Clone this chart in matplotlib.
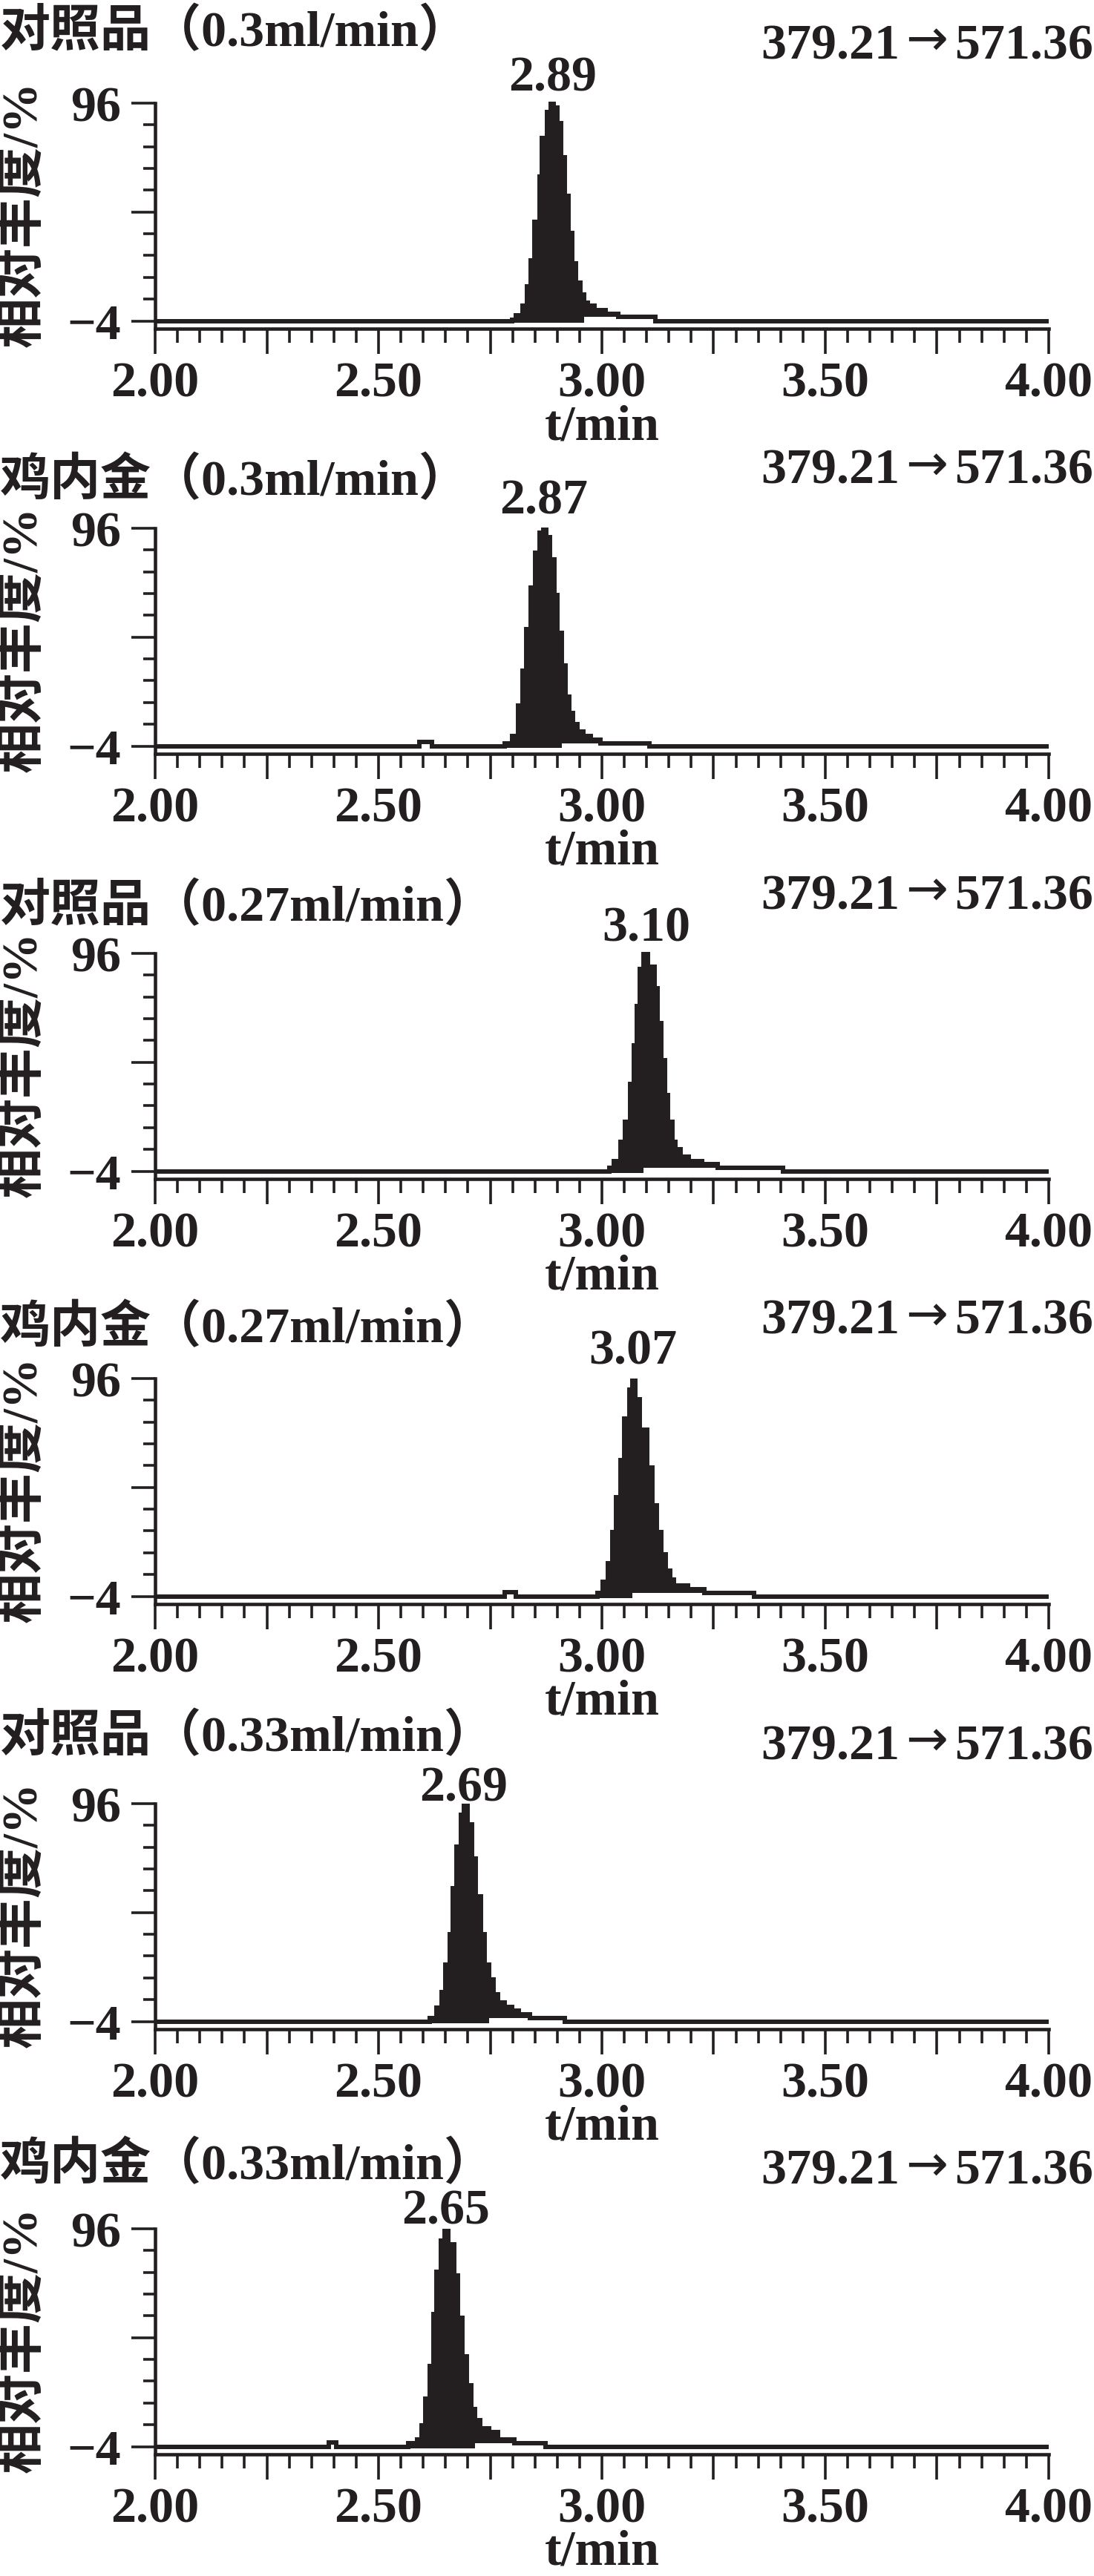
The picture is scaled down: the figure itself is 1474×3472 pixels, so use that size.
import matplotlib
matplotlib.use('Agg')
import matplotlib.pyplot as plt
from matplotlib.ticker import FixedLocator, MultipleLocator, FuncFormatter

plt.rcParams['font.family'] = ['Liberation Serif', 'Noto Sans CJK SC', 'DejaVu Sans']
plt.rcParams['font.weight'] = 'bold'

# ---------------- data ----------------
titles = ['对照品（0.3ml/min）', '鸡内金（0.3ml/min）',
          '对照品（0.27ml/min）', '鸡内金（0.27ml/min）',
          '对照品（0.33ml/min）', '鸡内金（0.33ml/min）']
transition_from = '379.21'
transition_arrow = '→'
transition_to = '571.36'
peak_labels = ['2.89', '2.87', '3.10', '3.07', '2.69', '2.65']
peak_times = [2.89, 2.87, 3.10, 3.07, 2.69, 2.65]
x_label = 't/min'
y_label = '相对丰度/%'
y_tick_labels = ['−4', '96']
x_tick_labels = ['2.00', '2.50', '3.00', '3.50', '4.00']

baseline_level = -4

p1_edges = [2.799, 2.807, 2.822, 2.832, 2.841, 2.849, 2.860, 2.866, 2.877, 2.885, 2.892, 2.900,
            2.908, 2.917, 2.925, 2.933, 2.942, 2.951, 2.960, 2.969, 2.984, 3.009, 3.037, 3.120]
p1_values = [-3.6, -1.5, 3.0, 12.0, 23.7, 41.4, 62.1, 79.9, 91.8, 95.6, 94.1, 86.8,
             71.1, 53.3, 36.4, 22.5, 13.5, 8.1, 4.5, 3.0, 1.0, -0.6, -2.1]

p2_edges = [2.783, 2.799, 2.812, 2.822, 2.831, 2.841, 2.851, 2.860, 2.868, 2.876, 2.884,
            2.893, 2.901, 2.910, 2.918, 2.927, 2.936, 2.946, 2.958, 2.975, 2.997, 3.106]
p2_values = [-2.9, 0.7, 14.7, 30.5, 49.7, 68.6, 84.9, 93.8, 95.2, 92.0, 81.6,
             65.2, 47.8, 33.0, 18.6, 11.1, 6.2, 2.5, 0.7, -1.1, -2.9]

p3_edges = [3.017, 3.027, 3.042, 3.052, 3.063, 3.071, 3.078, 3.085, 3.093, 3.103, 3.118,
            3.125, 3.133, 3.141, 3.148, 3.158, 3.165, 3.176, 3.194, 3.224, 3.259, 3.406]
p3_values = [-2.5, 0.7, 9.4, 18.5, 36.1, 53.8, 71.9, 89.0, 95.5, 89.8, 79.9,
             64.0, 46.9, 31.0, 18.5, 9.4, 6.0, 2.6, 0.7, -0.8, -2.5]

p4_edges = [2.990, 3.002, 3.014, 3.024, 3.032, 3.042, 3.050, 3.061, 3.068, 3.075, 3.085,
            3.101, 3.113, 3.123, 3.133, 3.143, 3.153, 3.161, 3.192, 3.229, 3.340]
p4_values = [-2.4, 2.7, 11.2, 25.6, 41.4, 58.4, 77.7, 91.0, 95.0, 86.5,
             72.4, 55.0, 37.8, 25.6, 15.2, 7.8, 3.8, 1.0, -0.7, -2.4]

p5_edges = [2.614, 2.630, 2.641, 2.649, 2.659, 2.666, 2.674, 2.684, 2.691, 2.699, 2.709,
            2.718, 2.730, 2.738, 2.748, 2.758, 2.768, 2.783, 2.799, 2.814, 2.839, 2.917]
p5_values = [-2.6, 2.4, 9.5, 22.0, 36.1, 57.1, 76.3, 91.0, 95.0, 86.5, 70.9,
             53.3, 36.1, 22.0, 15.2, 8.4, 4.6, 2.7, 1.0, -0.7, -2.4]

p6_edges = [2.567, 2.587, 2.597, 2.605, 2.615, 2.623, 2.629, 2.639, 2.648, 2.656, 2.670,
            2.677, 2.688, 2.698, 2.708, 2.716, 2.728, 2.748, 2.768, 2.804, 2.874]
p6_values = [-2.5, -0.6, 5.6, 18.1, 32.8, 56.9, 76.3, 90.6, 95.0, 88.8,
             74.4, 55.0, 37.5, 24.0, 13.1, 8.1, 4.4, 2.5, -0.6, -2.5]

# end of the integrated (filled to baseline) part of each peak
integration_end = [2.960, 2.910, 3.093, 3.068, 2.748, 2.716]

# small baseline blips (start, end, level); None when absent
blip_start = [None, 2.592, None, 2.783, None, 2.389]
blip_end = [None, 2.619, None, 2.808, None, 2.406]
blip_level = [None, -2.0, None, -2.0, None, -2.0]

all_edges = [p1_edges, p2_edges, p3_edges, p4_edges, p5_edges, p6_edges]
all_values = [p1_values, p2_values, p3_values, p4_values, p5_values, p6_values]

# ---------------- layout ----------------
W, H = 1474, 3473
DPI = 100
INK = '#231f20'
FS = 49

fig = plt.figure(figsize=(W / DPI, H / DPI), dpi=DPI)
fig.patch.set_facecolor('white')

ax_left_px, ax_right_px = 209, 1413
top0_px, step_px = 140, 573.0
ax_h_px = 303.5          # from 96 level down to x spine
ppu = 2.935              # pixels per unit
ybot = baseline_level - 10 / ppu

title_off = [-78, -46, -45, -50, -72, -68]
label_off = [18, 20, 17, 20, 5, 7]
xlabel_off = 452
right_off = -61

LW_TRACE = 4.3

for k in range(6):
    y96 = top0_px + step_px * k
    ax = fig.add_axes([ax_left_px / W, 1 - (y96 + ax_h_px) / H,
                       (ax_right_px - ax_left_px) / W, ax_h_px / H])
    ax.set_xlim(2.0, 4.0)
    ax.set_ylim(ybot, 96)
    for s in ['top', 'right']:
        ax.spines[s].set_visible(False)
    for s in ['left', 'bottom']:
        ax.spines[s].set_linewidth(3.3)
        ax.spines[s].set_color(INK)

    # ticks
    ax.xaxis.set_major_locator(MultipleLocator(0.25))
    ax.xaxis.set_minor_locator(MultipleLocator(0.05))
    ax.xaxis.set_major_formatter(FuncFormatter(
        lambda v, p: x_tick_labels[int(round((v - 2.0) / 0.5))]
        if abs((v - 2.0) / 0.5 - round((v - 2.0) / 0.5)) < 1e-6 else ''))
    ax.yaxis.set_major_locator(FixedLocator([-4, 46, 96]))
    ax.yaxis.set_minor_locator(FixedLocator([6, 16, 26, 36, 56, 66, 76, 86]))
    ax.yaxis.set_major_formatter(FuncFormatter(
        lambda v, p: y_tick_labels[0] if abs(v + 4) < 1e-6 else (y_tick_labels[1] if abs(v - 96) < 1e-6 else '')))
    ax.tick_params(axis='x', which='major', direction='out', length=24.5, width=2.6,
                   color=INK, labelsize=FS, labelcolor=INK, pad=7)
    ax.tick_params(axis='x', which='minor', direction='out', length=13.5, width=2.6, color=INK)
    ax.tick_params(axis='y', which='major', direction='out', length=23, width=2.6,
                   color=INK, labelsize=FS, labelcolor=INK, pad=10)
    ax.tick_params(axis='y', which='minor', direction='out', length=11.5, width=2.6, color=INK)

    edges = all_edges[k]
    vals = all_values[k]
    iend = edges.index(integration_end[k])

    # filled integrated part
    ax.stairs(vals[:iend], edges[:iend + 1], baseline=baseline_level - 1.0, fill=True,
              color=INK, linewidth=0, clip_on=False)
    # tail part filled down to its own floor
    ax.stairs(vals[iend:], edges[iend:], baseline=vals[-1], fill=True,
              color=INK, linewidth=0, clip_on=False)

    # full trace
    tr_edges = [2.0]
    tr_vals = []
    if blip_start[k] is not None:
        tr_vals += [baseline_level, blip_level[k]]
        tr_edges += [blip_start[k], blip_end[k]]
    tr_vals += [baseline_level] + vals + [baseline_level]
    tr_edges += edges + [4.0]
    ax.stairs(tr_vals, tr_edges, baseline=None, color=INK, linewidth=LW_TRACE,
              joinstyle='miter', capstyle='butt', clip_on=False)

    # peak label
    ax.annotate(peak_labels[k], xy=(peak_times[k], 96), xytext=(0, label_off[k] * 72 / DPI),
                textcoords='offset points', ha='center', va='baseline',
                fontsize=FS, color=INK, annotation_clip=False)

    # x axis label
    fig.text((ax_left_px + (ax_right_px - ax_left_px) * 0.5) / W, 1 - (y96 + xlabel_off) / H,
             x_label, ha='center', va='baseline', fontsize=FS, color=INK)

    # titles
    fig.text(0.0, 1 - (y96 + title_off[k]) / H, titles[k], ha='left', va='baseline',
             fontsize=FS, color=INK)
    yb = 1 - (y96 + right_off) / H
    fig.text(1212 / W, yb, transition_from, ha='right', va='baseline', fontsize=FS, color=INK)
    fig.text(1249 / W, yb + 4 / H, transition_arrow, ha='center', va='baseline', fontsize=FS,
             color=INK, family=['DejaVu Sans'], fontweight='normal')
    fig.text(1473 / W, yb, transition_to, ha='right', va='baseline', fontsize=FS, color=INK)

    # y label
    fig.text(30 / W, 1 - (y96 + ax_h_px / 2 - 3) / H, y_label, rotation=90,
             ha='center', va='center', fontsize=FS, color=INK)

fig.savefig('out.png', dpi=DPI, facecolor='white')
